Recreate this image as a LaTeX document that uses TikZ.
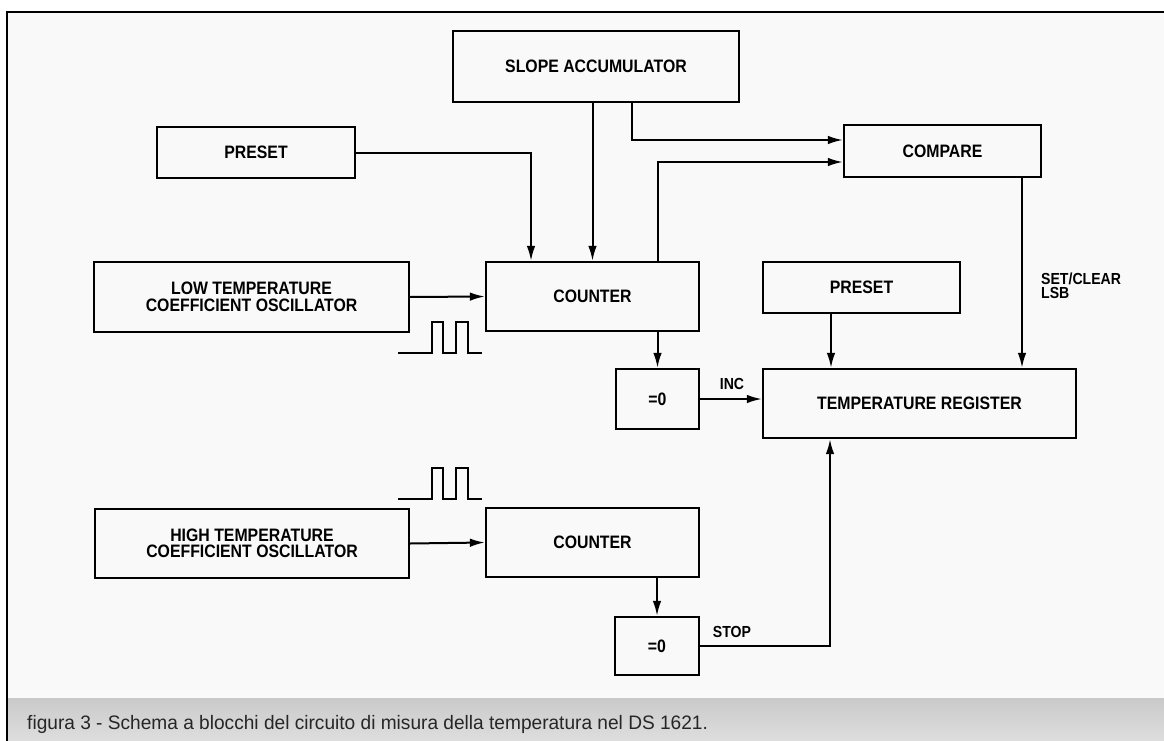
\documentclass[tikz,border=0pt]{standalone}
\usepackage{fontspec}
\newfontfamily\blockfont{Liberation Sans}[FakeStretch=0.88]
\newfontfamily\capfont{Liberation Sans}[FakeStretch=0.98]
\usetikzlibrary{arrows.meta, positioning, calc}

\begin{document}
\begin{tikzpicture}[x=1pt, y=-1pt, >={Latex[length=15pt,width=8.5pt]}]

  % Styles for blocks, links and labels
  \tikzset{
    block/.style={draw, line width=2.2pt, inner sep=0pt, align=center,
      font=\blockfont\bfseries\fontsize{18}{16.5}\selectfont},
    link/.style={line width=2pt, ->},
    tag/.style={inner sep=0pt, align=left,
      font=\blockfont\bfseries\fontsize{16}{14.5}\selectfont},
    pulses/.pic={
      \draw[line width=1.5pt] (0,0) -- (34,0) -- (34,-31) -- (45,-31) -- (45,0)
        -- (58,0) -- (58,-31) -- (70,-31) -- (70,0) -- (84,0);
    }
  }

  % Page, background and caption band
  \useasboundingbox (0,0) rectangle (1164,741);
  \fill[white] (0,0) rectangle (1164,741);
  \fill[gray!5] (8,13) rectangle (1164,698);
  \shade[top color=gray!42, bottom color=gray!26] (8,698) rectangle (1164,741);
  \draw[line width=2.4pt] (7,741) -- (7,12) -- (1164,12);

  % Blocks
  \node[block, minimum width=286, minimum height=71] (slope) at (596,66.5) {SLOPE ACCUMULATOR};
  \node[block, minimum width=198, minimum height=51] (preset1) at (256,152.5) {PRESET};
  \node[block, minimum width=315, minimum height=70] (lowosc) at (251.5,297) {LOW TEMPERATURE\\COEFFICIENT OSCILLATOR};
  \node[block, minimum width=213, minimum height=69] (counter1) at (592.5,296.5) {COUNTER};
  \node[block, minimum width=83, minimum height=60] (zero1) at (657.5,399) {=0};
  \node[block, minimum width=197, minimum height=52] (compare) at (942.5,151) {COMPARE};
  \node[block, minimum width=197, minimum height=51] (preset2) at (861.5,287.5) {PRESET};
  \node[block, minimum width=313, minimum height=69] (tempreg) at (919.5,403.5) {TEMPERATURE REGISTER};
  \node[block, minimum width=314, minimum height=69] (highosc) at (252,543.5) {HIGH TEMPERATURE\\COEFFICIENT OSCILLATOR};
  \node[block, minimum width=213, minimum height=69] (counter2) at (592.5,542.5) {COUNTER};
  \node[block, minimum width=84, minimum height=58] (zero2) at (657,646) {=0};

  % Links of the low temperature chain
  \draw[link] (slope.south -| counter1.north) -- (counter1.north);
  \draw[link] ([xshift=36pt]slope.south) |- ([yshift=11pt]compare.west);
  \draw[link] (counter1.north -| zero1.north) |- ([yshift=-11pt]compare.west);
  \draw[link] (preset1.east) -| ([xshift=-61.5pt]counter1.north);
  \draw[link] (lowosc.east) -- (counter1.west);
  \draw[link] (counter1.south -| zero1.north) -- (zero1.north);
  \draw[link] (zero1.east) -- (zero1.east -| tempreg.west);
  \draw[link] ([xshift=-30.5pt]preset2.south) -- ([xshift=-88.5pt]tempreg.north);
  \draw[link] ([xshift=79.5pt]compare.south) -- ([xshift=102.5pt]tempreg.north);

  % Links of the high temperature chain
  \draw[link] (highosc.east) -- (counter2.west);
  \draw[link] (counter2.south -| zero2.north) -- (zero2.north);
  \draw[link] (zero2.east) -| ([xshift=-89.5pt]tempreg.south);

  % Clock waveforms
  \pic at (398,353) {pulses};
  \pic at (398,499) {pulses};

  % Labels
  \node[tag] (inc) at (732,384) {INC};
  \node[tag] (stop) at (732,632) {STOP};
  \node[tag, anchor=west] (setclr) at (1041,286) {SET/CLEAR\\LSB};

  % Caption
  \node[anchor=base west, inner sep=0pt, text=black!85,
    font=\capfont\fontsize{19.5}{20}\selectfont] (caption) at (27,729)
    {figura 3 - Schema a blocchi del circuito di misura della temperatura nel DS 1621.};

\end{tikzpicture}
\end{document}
